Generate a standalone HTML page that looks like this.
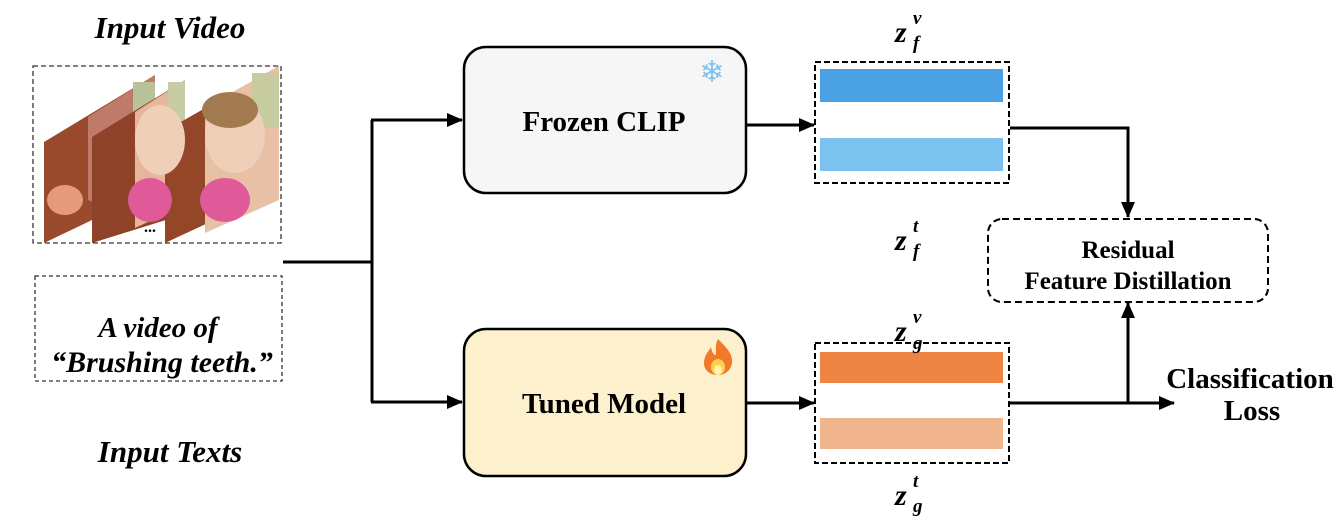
<!DOCTYPE html>
<html><head><style>
html,body{margin:0;padding:0;background:#fff;}
svg{display:block;}
text{font-family:"Liberation Serif",serif;font-weight:bold;fill:#000;}
</style></head><body>
<svg width="1340" height="520" viewBox="0 0 1340 520" xmlns="http://www.w3.org/2000/svg">
<defs>
<marker id="ah2" markerWidth="16" markerHeight="14" refX="15" refY="7" orient="auto" markerUnits="userSpaceOnUse">
<path d="M0,0 L16,7 L0,14 z" fill="#000"/>
</marker>
</defs>

<text x="170" y="38" font-size="31" font-style="italic" text-anchor="middle">Input Video</text>
<text x="170" y="462" font-size="31" font-style="italic" text-anchor="middle">Input Texts</text>

<rect x="33" y="66" width="248" height="177" fill="none" stroke="#333" stroke-width="1.3" stroke-dasharray="5,3"/>
<g>
<polygon points="44,142 155,75 155,190 44,243" fill="#9a4a2c"/>
<polygon points="88,117 155,75 155,175 100,205 88,200" fill="#c07a6a"/>
<rect x="133" y="82" width="22" height="45" fill="#b9c29a"/>
<polygon points="92,137 185,80 185,214 92,243" fill="#8e4328"/>
<polygon points="135,112 185,80 185,205 135,228" fill="#e6b59b"/>
<rect x="168" y="82" width="17" height="40" fill="#c8cca4"/>
<polygon points="165,131 279,66 279,190 165,243" fill="#944628"/>
<polygon points="205,108 279,66 279,200 205,233" fill="#e8c0a6"/>
<rect x="252" y="73" width="27" height="55" fill="#c6cca0"/>
<ellipse cx="235" cy="135" rx="30" ry="38" fill="#efcfb8"/>
<ellipse cx="230" cy="110" rx="28" ry="18" fill="#a27a50"/>
<ellipse cx="160" cy="140" rx="25" ry="35" fill="#efcfb8"/>
<ellipse cx="225" cy="200" rx="25" ry="22" fill="#e05a9a"/>
<ellipse cx="150" cy="200" rx="22" ry="22" fill="#e05a9a"/>
<ellipse cx="65" cy="200" rx="18" ry="15" fill="#e69a7c"/>
</g>
<text x="150" y="232" font-size="16" text-anchor="middle" font-weight="bold">...</text>

<rect x="35" y="276" width="247" height="105" fill="none" stroke="#333" stroke-width="1.3" stroke-dasharray="4,3"/>
<text x="158" y="337" font-size="29" font-style="italic" text-anchor="middle">A video of</text>
<text x="162" y="372" font-size="30" font-style="italic" text-anchor="middle">“Brushing teeth.”</text>

<g stroke="#000" stroke-width="3" fill="none">
<line x1="283" y1="262" x2="372" y2="262"/>
<line x1="372" y1="120" x2="372" y2="402"/>
<line x1="371" y1="120" x2="462" y2="120" marker-end="url(#ah2)"/>
<line x1="371" y1="402" x2="462" y2="402" marker-end="url(#ah2)"/>
<line x1="747" y1="125" x2="814" y2="125" marker-end="url(#ah2)"/>
<line x1="747" y1="403" x2="814" y2="403" marker-end="url(#ah2)"/>
<polyline points="1010,128 1128,128 1128,217" marker-end="url(#ah2)"/>
<line x1="1010" y1="403" x2="1174" y2="403" marker-end="url(#ah2)"/>
<line x1="1128" y1="404" x2="1128" y2="303" marker-end="url(#ah2)"/>
</g>

<rect x="464" y="47" width="282" height="146" rx="22" fill="#f6f6f6" stroke="#000" stroke-width="2.5"/>
<text x="604" y="131" font-size="29" text-anchor="middle">Frozen CLIP</text>
<text x="712" y="82" font-size="30" text-anchor="middle" style="fill:#7ec3ee;font-family:'DejaVu Sans',sans-serif;font-weight:normal">❄</text>
<rect x="464" y="329" width="282" height="147" rx="22" fill="#fdf1cd" stroke="#000" stroke-width="2.5"/>
<text x="604" y="413" font-size="29" text-anchor="middle">Tuned Model</text>
<g transform="translate(718,357)">
<path d="M0,-18 C10,-8 15,-2 14,6 C13,14 6,18 0,18 C-7,18 -14,14 -14,6 C-14,-2 -9,-6 -7,-10 C-6,-4 -4,-2 -2,-2 C-2,-8 -3,-12 0,-18 z" fill="#f07a2a"/>
<ellipse cx="0" cy="10" rx="7" ry="8" fill="#ffd24a"/>
<ellipse cx="0" cy="13" rx="4" ry="5" fill="#fff3b0"/>
</g>

<rect x="815" y="62" width="194" height="121" fill="none" stroke="#000" stroke-width="2" stroke-dasharray="6,3"/>
<rect x="820" y="69" width="183" height="33" fill="#4aa2e4"/>
<rect x="820" y="138" width="183" height="33" fill="#7cc2ee"/>
<rect x="815" y="343" width="194" height="120" fill="none" stroke="#000" stroke-width="2" stroke-dasharray="6,3"/>
<rect x="820" y="352" width="183" height="31" fill="#ee8443"/>
<rect x="820" y="418" width="183" height="31" fill="#f1b58e"/>

<g style="font-family:'DejaVu Serif',serif" font-style="italic">
<text x="895" y="42" font-size="30">z</text><text x="913" y="24" font-size="19">v</text><text x="913" y="49" font-size="19">f</text>
<text x="895" y="250" font-size="30">z</text><text x="913" y="232" font-size="19">t</text><text x="913" y="257" font-size="19">f</text>
<text x="895" y="341" font-size="30">z</text><text x="913" y="323" font-size="19">v</text><text x="913" y="349" font-size="19">g</text>
<text x="895" y="505" font-size="30">z</text><text x="913" y="487" font-size="19">t</text><text x="913" y="512" font-size="19">g</text>
</g>

<rect x="988" y="219" width="280" height="83" rx="14" fill="none" stroke="#000" stroke-width="2" stroke-dasharray="7,4"/>
<text x="1128" y="258" font-size="25" text-anchor="middle">Residual</text>
<text x="1128" y="289" font-size="25" text-anchor="middle">Feature Distillation</text>

<text x="1250" y="388" font-size="29" text-anchor="middle">Classification</text>
<text x="1252" y="420" font-size="29" text-anchor="middle">Loss</text>
</svg>
</body></html>
